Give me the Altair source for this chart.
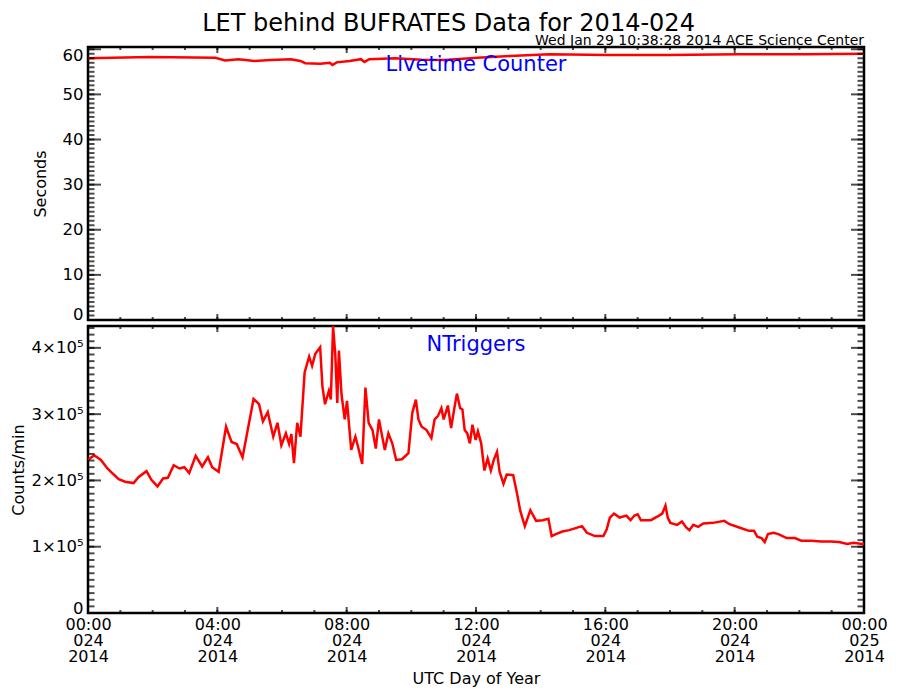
import altair as alt
import pandas as pd

FONT = "DejaVu Sans"

MAIN_TITLE = "LET behind BUFRATES Data for 2014-024"
SUB_TITLE = "Wed Jan 29 10:38:28 2014 ACE Science Center"
TOP_LABEL = "Livetime Counter"
BOTTOM_LABEL = "NTriggers"
TOP_Y_TITLE = "Seconds"
BOTTOM_Y_TITLE = "Counts/min"
X_TITLE = "UTC Day of Year"

# Livetime counter (seconds) vs. UTC hour of day 024
live_hours = [0.0, 1.91, 3.94, 4.24, 4.65, 5.15, 5.66, 6.27, 6.57, 6.72, 7.18, 7.48,
              7.56, 7.69, 8.09, 8.44, 8.55, 8.70, 9.51, 10.32, 11.03, 12.04, 13.05,
              14.27, 16.09, 17.91, 20.14, 22.17, 24.0]
live_seconds = [58.0, 58.3, 58.1, 57.5, 57.8, 57.4, 57.6, 57.8, 57.4, 56.9, 56.8, 57.0,
                56.5, 57.1, 57.4, 57.8, 57.2, 57.8, 58.0, 57.7, 57.6, 58.1, 58.5,
                58.9, 58.7, 58.7, 58.9, 58.9, 59.0]

# NTriggers (counts/min) vs. UTC hour
trig_hours = [0.00, 0.19, 0.40, 0.60, 0.75, 0.95, 1.15, 1.41, 1.56, 1.81, 1.96, 2.15,
              2.32, 2.47, 2.65, 2.83, 2.98, 3.13, 3.33, 3.53, 3.71, 3.84, 4.04, 4.27,
              4.44, 4.60, 4.78, 5.12, 5.29, 5.41, 5.56, 5.73, 5.86, 5.98, 6.12, 6.22,
              6.29, 6.37, 6.47, 6.57, 6.70, 6.84, 6.93, 7.03, 7.18, 7.25, 7.33, 7.45,
              7.51, 7.58, 7.65, 7.71, 7.76, 7.84, 7.94, 8.01, 8.14, 8.27, 8.34, 8.48,
              8.58, 8.68, 8.80, 8.90, 9.00, 9.08, 9.18, 9.29, 9.41, 9.53, 9.71, 9.91,
              10.03, 10.14, 10.22, 10.32, 10.47, 10.62, 10.72, 10.82, 10.93, 11.00, 11.13,
              11.23, 11.33, 11.41, 11.51, 11.58, 11.65, 11.73, 11.81, 11.89, 11.99, 12.06,
              12.16, 12.26, 12.36, 12.46, 12.55, 12.65, 12.73, 12.85, 12.95, 13.15, 13.25,
              13.37, 13.51, 13.68, 13.86, 14.06, 14.24, 14.34, 14.47, 14.67, 14.88, 15.08,
              15.28, 15.43, 15.68, 15.94, 16.04, 16.14, 16.27, 16.44, 16.65, 16.78, 16.90,
              17.00, 17.10, 17.41, 17.66, 17.76, 17.86, 17.93, 18.01, 18.22, 18.37, 18.50,
              18.60, 18.72, 18.87, 19.03, 19.33, 19.68, 19.84, 20.14, 20.44, 20.60, 20.70,
              20.83, 20.93, 21.03, 21.20, 21.35, 21.61, 21.86, 22.06, 22.37, 22.67, 22.97,
              23.23, 23.48, 23.68, 23.94, 24.00]
trig_counts = [231000, 238000, 231000, 218000, 211000, 202000, 198000, 196000, 205000, 214000,
               201000, 191000, 203000, 204000, 223000, 218000, 220000, 211000, 237000, 221000,
               235000, 220000, 213000, 281000, 258000, 255000, 235000, 323000, 315000, 289000,
               303000, 266000, 287000, 253000, 271000, 255000, 270000, 226000, 287000, 266000,
               363000, 387000, 373000, 391000, 401000, 342000, 315000, 335000, 322000, 433000,
               388000, 317000, 396000, 330000, 292000, 320000, 246000, 266000, 253000, 225000,
               340000, 287000, 276000, 248000, 292000, 271000, 246000, 271000, 256000, 231000,
               232000, 241000, 302000, 322000, 292000, 281000, 276000, 264000, 292000, 297000,
               309000, 292000, 313000, 279000, 309000, 331000, 309000, 307000, 276000, 271000,
               256000, 284000, 261000, 274000, 256000, 215000, 233000, 215000, 231000, 243000,
               213000, 195000, 209000, 208000, 185000, 154000, 131000, 155000, 139000, 140000,
               142000, 116000, 119000, 123000, 125000, 128000, 131000, 121000, 116000, 116000,
               126000, 144000, 150000, 144000, 147000, 140000, 147000, 149000, 140000, 140000,
               147000, 150000, 162000, 144000, 136000, 133000, 138000, 129000, 125000, 133000,
               130000, 135000, 136000, 139000, 134000, 129000, 124000, 124000, 115000, 113000,
               107000, 119000, 121000, 119000, 113000, 113000, 109000, 109000, 108000, 108000,
               107000, 104000, 106000, 104000, 105000]

# axis tick values
x_major = [0, 4, 8, 12, 16, 20, 24]
x_minor = list(range(0, 25))
live_major = [0, 10, 20, 30, 40, 50, 60]
live_minor = list(range(0, 61))
trig_major = [0, 100000, 200000, 300000, 400000]
trig_minor = [i * 10000 for i in range(0, 44)]

X_DOMAIN = [0, 24]
LIVE_DOMAIN = [0, 60.5]
TRIG_DOMAIN = [0, 433000]

W = 776
H_TOP = 273
H_BOT = 287

x_label_expr = ("datum.value == 24 ? ['00:00', '025', '2014'] : "
                "[(datum.value < 10 ? '0' : '') + datum.value + ':00', '024', '2014']")
trig_label_expr = "datum.value == 0 ? '0' : format(datum.value / 100000, 'd') + '×10⁵'"


def tick_layers(xs, ys, ydomain, ymajor, yminor, xtitle, ytitle):
    layers = []
    base_tick = dict(color="black", clip=True)
    for vals, size in ((ymajor, 26), (yminor, 13)):
        df = pd.DataFrame({"v": vals})
        for edge in X_DOMAIN:
            layers.append(
                alt.Chart(df).mark_tick(orient="horizontal", size=size, thickness=2, **base_tick).encode(
                    x=alt.X(datum=edge, type="quantitative", scale=xs),
                    y=alt.Y("v:Q", scale=ys, title=ytitle),
                )
            )
    for vals, size in ((x_major, 12), (x_minor, 6)):
        df = pd.DataFrame({"h": vals})
        for edge in ydomain:
            layers.append(
                alt.Chart(df).mark_tick(orient="vertical", size=size, thickness=2, **base_tick).encode(
                    x=alt.X("h:Q", scale=xs, title=xtitle),
                    y=alt.Y(datum=edge, type="quantitative", scale=ys),
                )
            )
    return layers


def panel(df, yfield, ydomain, ymajor, yminor, ytitle, label_text, label_y, height,
          show_x, ylabel_expr=None, title_pad=10, title=None, flush_offset=3):
    xs = alt.Scale(domain=X_DOMAIN, nice=False, zero=False)
    ys = alt.Scale(domain=ydomain, nice=False, zero=False)
    if show_x:
        xaxis = alt.Axis(values=x_major, labelExpr=x_label_expr, ticks=False, domain=False,
                         grid=False, title=X_TITLE, labelFontSize=16, labelLineHeight=16.3,
                         labelPadding=3, titleFontSize=16, titlePadding=6, labelFlush=False)
    else:
        xaxis = None
    yaxis_kw = dict(values=ymajor, ticks=False, domain=False, grid=False, title=ytitle,
                    labelFontSize=16.5, labelPadding=5, labelFlush=3,
                    labelFlushOffset=flush_offset, titleFontSize=16, titlePadding=title_pad)
    if ylabel_expr:
        yaxis_kw["labelExpr"] = ylabel_expr
    line = alt.Chart(df).mark_line(color="#ff0000", strokeWidth=2.5, clip=True).encode(
        x=alt.X("hour:Q", scale=xs, axis=xaxis, title=X_TITLE),
        y=alt.Y(f"{yfield}:Q", scale=ys, axis=alt.Axis(**yaxis_kw), title=ytitle),
    )
    text = alt.Chart(pd.DataFrame({"t": [label_text]})).mark_text(
        color="#0000ff", font=FONT, fontSize=21, baseline="middle", align="center"
    ).encode(
        x=alt.X(datum=12, type="quantitative", scale=xs),
        y=alt.Y(datum=label_y, type="quantitative", scale=ys),
        text="t:N",
    )
    layers = [line] + tick_layers(xs, ys, ydomain, ymajor, yminor, X_TITLE, ytitle) + [text]
    props = dict(width=W, height=height)
    if title is not None:
        props["title"] = title
    return alt.layer(*layers).properties(**props)


live_df = pd.DataFrame({"hour": live_hours, "seconds": live_seconds})
trig_df = pd.DataFrame({"hour": trig_hours, "counts": trig_counts})

top = panel(live_df, "seconds", LIVE_DOMAIN, live_major, live_minor, TOP_Y_TITLE,
            TOP_LABEL, 56.5, H_TOP, False, title_pad=14, flush_offset=2,
            title=alt.TitleParams(SUB_TITLE, anchor="end", fontSize=14, offset=-1,
                                  fontWeight="normal", font=FONT, color="black"))
bottom = panel(trig_df, "counts", TRIG_DOMAIN, trig_major, trig_minor, BOTTOM_Y_TITLE,
               BOTTOM_LABEL, 405000, H_BOT, True, ylabel_expr=trig_label_expr, title_pad=5,
               flush_offset=3)

chart = alt.vconcat(top, bottom, spacing=0).properties(
    title=alt.TitleParams(MAIN_TITLE, anchor="middle", fontSize=24, offset=-3,
                          fontWeight="normal", font=FONT, color="black"),
    padding={"left": 0, "top": 3, "right": 0, "bottom": 0},
).configure_view(
    stroke="black", strokeWidth=2.5
).configure_axis(
    labelFont=FONT, titleFont=FONT, labelColor="black", titleColor="black",
    titleFontWeight="normal"
).configure_title(
    font=FONT, color="black", fontWeight="normal"
)

chart.save("out.html", embed_options={"renderer": "svg", "actions": False})
